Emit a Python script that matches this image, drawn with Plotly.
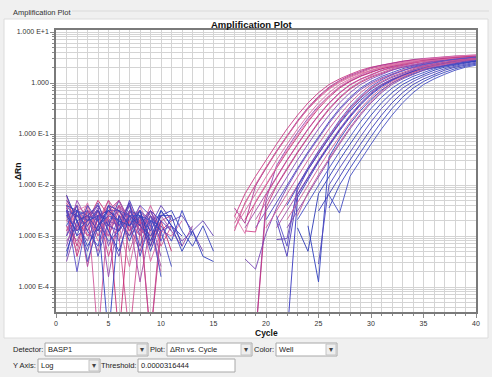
import plotly.graph_objects as go

# ---------------- data (log10 of delta Rn; None = not plotted) ----------------
_ = None
baseline_cycles = list(range(1, 16))
amp_cycles = list(range(16, 41))

early_baseline_log10 = [
    [-2.3, -2.6, -2.9, -2.5, -3.4, -2.7, -2.4, -2.8, -3.1, -2.6, _, _, _, _, _],
    [-2.2, -2.9, -2.5, -2.7, -2.3, -3.0, -5, -2.9, -2.6, -3.2, -2.8, _, _, _, _],
    [-2.7, -2.4, -3.6, -2.6, -2.5, -2.3, -2.8, -3.3, -2.7, _, _, _, _, _, _],
    [-2.5, -2.8, -2.6, -3.1, -2.9, -2.4, -2.6, -2.5, -3.5, -2.9, -3.0, -2.7, _, _, _],
    [-3.0, -2.3, -2.7, -2.4, -3.8, -2.6, -2.9, -2.7, -2.5, -3.0, _, _, _, _, _],
    [-2.4, -3.4, -2.7, -2.3, -2.6, -5, -2.5, -2.8, -3.2, -2.7, -3.3, _, _, _, _],
    [-2.6, -2.5, -2.4, -2.9, -2.7, -2.8, -3.0, -2.4, -2.9, -3.7, _, _, _, _, _],
    [-2.8, -3.1, -2.6, -2.5, -2.8, -2.4, -2.7, -3.9, -2.8, -2.6, -2.9, -3.2, -2.8, _, _],
    [-2.35, -2.7, -3.0, -2.7, -2.4, -2.9, -2.6, -2.7, -3.0, -2.8, _, _, _, _, _],
    [-2.9, -2.6, -2.8, -3.3, -2.5, -2.7, -2.35, -2.9, -2.6, -3.1, _, _, _, _, _],
    [-2.5, -3.2, -2.5, -2.8, -3.0, -2.5, -2.9, -2.6, -5, -2.9, -2.7, _, _, _, _],
    [-3.2, -2.5, -2.9, -2.6, -2.7, -3.1, -2.5, -2.8, -2.7, -3.4, _, _, _, _, _],
    [-2.6, -2.8, -2.35, -3.0, -2.6, -2.8, -3.6, -2.6, -2.9, _, _, _, _, _, _],
    [-2.45, -3.0, -2.8, -2.45, -3.2, -2.6, -2.7, -3.0, -2.5, -2.9, -2.8, -3.1, -2.9, -3.3, _],
]
early_amp_log10 = [
    [_, -2.62, -2.17, -1.83, -1.51, -1.2, -0.9, -0.63, -0.39, -0.19, -0.03, 0.08, 0.17, 0.25, 0.31, 0.35, 0.39, 0.43, 0.45, 0.47, 0.49, 0.50, 0.51, 0.52, 0.53],
    [_, -2.9, -2.34, -2.0, -1.67, -1.35, -1.05, -0.76, -0.5, -0.28, -0.1, 0.03, 0.13, 0.21, 0.28, 0.33, 0.37, 0.41, 0.44, 0.46, 0.48, 0.50, 0.51, 0.52, 0.53],
    [_, -2.45, -2.75, -2.02, -1.66, -1.33, -1.03, -0.74, -0.48, -0.26, -0.08, 0.05, 0.15, 0.23, 0.30, 0.35, 0.39, 0.43, 0.46, 0.48, 0.50, 0.52, 0.53, 0.54, 0.55],
    [_, -2.84, -2.51, -2.17, -1.83, -1.51, -1.2, -0.9, -0.63, -0.39, -0.19, -0.03, 0.08, 0.17, 0.25, 0.31, 0.35, 0.39, 0.43, 0.45, 0.47, 0.49, 0.50, 0.51, 0.52],
    [_, _, _, -5, -2.3, -1.62, -1.28, -0.97, -0.69, -0.45, -0.25, -0.08, 0.04, 0.14, 0.22, 0.28, 0.33, 0.37, 0.41, 0.44, 0.46, 0.48, 0.49, 0.50, 0.51],
    [_, _, -2.68, -2.34, -2.0, -1.67, -1.35, -1.05, -0.76, -0.5, -0.28, -0.1, 0.03, 0.13, 0.21, 0.28, 0.33, 0.37, 0.41, 0.44, 0.46, 0.48, 0.50, 0.51, 0.52],
    [_, -2.6, -2.95, -2.32, -1.98, -1.64, -1.32, -1.02, -0.73, -0.47, -0.25, -0.07, 0.06, 0.16, 0.24, 0.31, 0.36, 0.40, 0.44, 0.47, 0.49, 0.51, 0.53, 0.54, 0.55],
    [_, _, -2.84, -2.51, -2.17, -1.83, -1.51, -1.2, -0.9, -0.63, -0.39, -0.19, -0.03, 0.08, 0.17, 0.25, 0.31, 0.35, 0.39, 0.43, 0.45, 0.47, 0.49, 0.50, 0.51],
    [_, _, -2.9, -2.92, -2.2, -1.85, -1.52, -1.21, -0.91, -0.64, -0.4, -0.2, -0.04, 0.07, 0.16, 0.24, 0.30, 0.35, 0.39, 0.42, 0.45, 0.47, 0.49, 0.50, 0.51],
    [_, _, _, -2.68, -2.34, -2.0, -1.67, -1.35, -1.05, -0.76, -0.5, -0.28, -0.1, 0.03, 0.13, 0.21, 0.28, 0.33, 0.37, 0.41, 0.44, 0.46, 0.48, 0.50, 0.51],
    [_, _, _, -5, -2.45, -2.02, -1.69, -1.37, -1.07, -0.78, -0.52, -0.3, -0.12, 0.01, 0.11, 0.19, 0.26, 0.31, 0.35, 0.39, 0.42, 0.44, 0.46, 0.48, 0.49],
    [_, _, _, -2.84, -2.51, -2.17, -1.83, -1.51, -1.2, -0.9, -0.63, -0.39, -0.19, -0.03, 0.08, 0.17, 0.25, 0.31, 0.35, 0.39, 0.43, 0.45, 0.47, 0.49, 0.50],
    [_, -2.75, -2.36, -1.99, -1.65, -1.34, -1.04, -0.76, -0.51, -0.3, -0.12, 0.01, 0.11, 0.19, 0.25, 0.30, 0.34, 0.38, 0.41, 0.43, 0.45, 0.47, 0.48, 0.49, 0.50],
    [_, _, -3.45, -3.65, -2.95, -2.45, -2.05, -1.7, -1.38, -1.08, -0.79, -0.53, -0.31, -0.13, 0.0, 0.1, 0.18, 0.25, 0.3, 0.34, 0.38, 0.41, 0.43, 0.45, 0.47],
]

mid_baseline_log10 = [
    [-2.4, -2.7, -3.3, -2.6, -2.5, -2.9, -2.4, -3.0, -2.7, -2.6, _, _, _, _, _],
    [-3.4, -2.5, -2.6, -2.4, -2.8, -2.3, -2.7, -2.5, -3.2, -2.5, -2.8, -3.0, _, _, _],
    [-2.7, -2.9, -2.4, -5, -2.5, -2.8, -2.6, -2.9, -2.4, -2.9, _, _, _, _, _],
    [-2.3, -2.6, -2.7, -2.35, -2.9, -3.4, -2.5, -2.6, -2.8, -2.4, -2.7, -2.6, -2.9, -2.7, -3.0],
    [-2.9, -2.4, -3.0, -2.8, -2.3, -2.6, -3.0, -2.7, -5, -2.7, _, _, _, _, _],
    [-2.5, -3.7, -2.6, -2.7, -2.5, -2.5, -2.8, -2.4, -2.6, -3.1, -2.6, _, _, _, _],
    [-2.6, -2.5, -2.9, -3.2, -2.4, -2.8, -2.35, -3.4, -2.7, -2.8, -3.1, -2.5, -3.0, _, _],
    [-3.1, -2.8, -2.5, -2.6, -3.0, -2.4, -2.9, -2.5, -2.8, -3.6, _, _, _, _, _],
    [-2.5, -2.6, -2.8, -2.5, -2.8, -2.9, -2.3, -2.8, -2.5, -2.7, -2.9, _, _, _, _],
    [-2.8, -3.3, -2.6, -2.9, -2.6, -2.3, -2.7, -3.0, -2.6, -2.8, _, _, _, _, _],
    [-2.4, -2.5, -2.7, -2.6, -5, -2.6, -3.1, -2.6, -2.9, -2.5, -2.8, -3.3, -2.9, -3.4, -3.5],
    [-3.5, -2.8, -3.1, -2.5, -2.7, -2.8, -2.5, -2.9, -2.5, -3.0, _, _, _, _, _],
    [-2.65, -2.4, -2.6, -3.0, -2.6, -2.4, -3.3, -2.7, -3.0, -2.7, -2.6, _, _, _, _],
    [-2.5, -3.0, -2.4, -2.7, -3.1, -2.9, -2.6, -2.6, -2.7, -3.8, _, _, _, _, _],
    [-2.2, -2.7, -3.2, -2.8, -2.5, -2.7, -2.8, -2.5, -3.1, -2.6, -2.6, -3.2, _, _, _],
    [-3.0, -2.6, -2.5, -3.4, -2.7, -2.5, -2.6, -3.2, -2.6, -2.9, _, _, _, _, _],
]
mid_amp_log10 = [
    [_, _, _, _, -2.68, -2.34, -2.0, -1.67, -1.35, -1.05, -0.76, -0.5, -0.28, -0.1, 0.03, 0.13, 0.21, 0.28, 0.33, 0.37, 0.41, 0.44, 0.46, 0.48, 0.50],
    [_, _, _, _, _, _, -5, -2.25, -1.9, -1.55, -1.24, -0.94, -0.67, -0.43, -0.23, -0.07, 0.05, 0.15, 0.23, 0.29, 0.34, 0.38, 0.41, 0.44, 0.46],
    [_, _, _, _, -2.84, -2.51, -2.17, -1.83, -1.51, -1.2, -0.9, -0.63, -0.39, -0.19, -0.03, 0.08, 0.17, 0.25, 0.31, 0.35, 0.39, 0.43, 0.45, 0.47, 0.49],
    [_, _, _, _, _, -3.07, -3.05, -2.1, -1.7, -1.38, -1.07, -0.78, -0.52, -0.3, -0.12, 0.01, 0.11, 0.19, 0.26, 0.31, 0.35, 0.39, 0.42, 0.44, 0.46],
    [_, _, _, _, _, -2.68, -2.34, -2.0, -1.67, -1.35, -1.05, -0.76, -0.5, -0.28, -0.1, 0.03, 0.13, 0.21, 0.28, 0.33, 0.37, 0.41, 0.44, 0.46, 0.48],
    [_, _, _, _, _, -2.6, -3.2, -2.02, -1.66, -1.33, -1.02, -0.73, -0.47, -0.25, -0.07, 0.06, 0.16, 0.24, 0.31, 0.36, 0.40, 0.44, 0.47, 0.49, 0.51],
    [_, _, _, _, _, _, -2.4, -2.03, -1.7, -1.38, -1.08, -0.8, -0.55, -0.34, -0.16, -0.03, 0.07, 0.15, 0.22, 0.27, 0.31, 0.35, 0.38, 0.41, 0.43],
    [_, _, _, _, _, -2.84, -2.51, -2.17, -1.83, -1.51, -1.2, -0.9, -0.63, -0.39, -0.19, -0.03, 0.08, 0.17, 0.25, 0.31, 0.35, 0.39, 0.43, 0.45, 0.47],
    [_, _, _, _, _, -2.7, -3.4, -2.19, -1.85, -1.53, -1.22, -0.92, -0.65, -0.41, -0.21, -0.05, 0.06, 0.15, 0.23, 0.29, 0.34, 0.38, 0.41, 0.44, 0.46],
    [_, _, _, _, _, _, -2.68, -2.34, -2.0, -1.67, -1.35, -1.05, -0.76, -0.5, -0.28, -0.1, 0.03, 0.13, 0.21, 0.28, 0.33, 0.37, 0.41, 0.44, 0.46],
    [_, _, _, _, _, _, _, _, -2.8, -3.9, -1.45, -1.1, -0.8, -0.54, -0.32, -0.14, 0.0, 0.1, 0.18, 0.25, 0.3, 0.34, 0.38, 0.41, 0.43],
    [_, _, _, _, _, _, -2.84, -2.51, -2.17, -1.83, -1.51, -1.2, -0.9, -0.63, -0.39, -0.19, -0.03, 0.08, 0.17, 0.25, 0.31, 0.35, 0.39, 0.43, 0.45],
    [_, _, _, _, _, _, _, -2.6, -2.15, -1.8, -1.48, -1.17, -0.87, -0.6, -0.36, -0.16, 0.0, 0.11, 0.2, 0.28, 0.34, 0.38, 0.42, 0.45, 0.47],
    [_, _, _, _, _, _, _, -2.68, -2.34, -2.0, -1.67, -1.35, -1.05, -0.76, -0.5, -0.28, -0.1, 0.03, 0.13, 0.21, 0.28, 0.33, 0.37, 0.41, 0.44],
    [_, _, _, _, _, _, _, -2.84, -3.3, -2.17, -1.83, -1.51, -1.2, -0.9, -0.63, -0.39, -0.19, -0.03, 0.08, 0.17, 0.25, 0.31, 0.35, 0.39, 0.43],
    [_, _, _, _, _, _, _, _, _, -3.55, -2.0, -1.67, -1.35, -1.05, -0.76, -0.5, -0.28, -0.1, 0.03, 0.13, 0.21, 0.28, 0.33, 0.37, 0.41],
]

late_baseline_log10 = [
    [-2.6, -2.9, -2.7, -2.5, -2.9, -3.3, -2.6, -2.8, -3.0, -2.6, -2.5, -2.9, -3.2, -2.8, -3.3],
    [-2.8, -2.4, -3.5, -2.8, -2.6, -2.7, -3.0, -2.5, -2.7, -2.9, -3.6, _, _, _, _],
    [-3.3, -2.7, -2.6, -2.9, -2.4, -2.5, -2.8, -2.6, -3.3, -2.7, _, _, _, _, _],
]
late_amp_log10 = [
    [_, _, _, _, _, _, _, _, _, _, -2.45, -2.0, -1.67, -1.35, -1.05, -0.76, -0.5, -0.28, -0.1, 0.03, 0.13, 0.21, 0.28, 0.33, 0.37],
    [_, _, _, _, _, _, _, _, _, _, -2.2, -2.55, -1.83, -1.51, -1.2, -0.9, -0.63, -0.39, -0.19, -0.03, 0.08, 0.17, 0.25, 0.31, 0.35],
    [_, _, _, _, _, _, _, _, _, -2.51, -2.17, -1.83, -1.51, -1.2, -0.9, -0.63, -0.39, -0.19, -0.03, 0.08, 0.17, 0.25, 0.31, 0.35, 0.39],
]

early_colors = ['#cc3a86', '#d0508f', '#b03a96', '#de6aa5', '#9a46b0', '#c82c74', '#e07ab0',
                '#a84aa8', '#d4448c', '#b85aa6', '#c4367e', '#8a4ab8', '#d86ca0', '#7a48b8']
mid_colors = ['#4a44c4', '#3838c0', '#d0589a', '#6848b8', '#c44a90', '#5a50c8', '#3c46c6', '#a850a8',
              '#4c3cbc', '#d0609c', '#3040c0', '#8448b0', '#c05898', '#4650c8', '#2f3cb8', '#5048c0']
late_colors = ['#3a44c0', '#4650c4', '#3a3cb8']

x_tick_values = [0, 5, 10, 15, 20, 25, 30, 35, 40]
y_tick_values = [10, 1, 0.1, 0.01, 0.001, 0.0001]
y_tick_labels = ["1.000 E+1", "1.000", "1.000 E-1", "1.000 E-2", "1.000 E-3", "1.000 E-4"]

# ---------------- figure ----------------
W, H = 492, 377
L, R, T, B = 56, 476, 30, 312


def px(x, y):
    return (x - L) / (R - L), (B - y) / (B - T)


fig = go.Figure()
cycles = baseline_cycles + amp_cycles
groups = [(early_baseline_log10, early_amp_log10, early_colors),
          (mid_baseline_log10, mid_amp_log10, mid_colors),
          (late_baseline_log10, late_amp_log10, late_colors)]
for bases, amps, cols in groups:
    for base, amp, col in zip(bases, amps, cols):
        vals = [None if v is None else 10 ** v for v in base + amp]
        fig.add_trace(go.Scatter(x=cycles, y=vals, mode='lines',
                                 line=dict(color=col, width=1), opacity=0.9,
                                 hoverinfo='skip', showlegend=False))

grid = '#d4d4d4'
fig.update_xaxes(range=[0, 40], tickmode='array', tickvals=x_tick_values,
                 ticks='outside', ticklen=4, tickcolor='#8a8a8a',
                 showgrid=True, gridcolor=grid, gridwidth=1, zeroline=False,
                 minor=dict(dtick=1, showgrid=True, gridcolor=grid, ticks='outside',
                            ticklen=2, tickcolor='#8a8a8a'),
                 showline=True, linecolor='#7a7a7a', linewidth=1.5, mirror=True,
                 tickfont=dict(size=7, color='#333'))
fig.update_yaxes(type='log', range=[-4.49, 1.04], tickmode='array',
                 tickvals=y_tick_values, ticktext=y_tick_labels,
                 ticks='outside', ticklen=4, tickcolor='#8a8a8a',
                 showgrid=True, gridcolor=grid, gridwidth=1, zeroline=False,
                 minor=dict(dtick='D1', showgrid=True, gridcolor=grid, ticks='outside',
                            ticklen=2, tickcolor='#8a8a8a'),
                 showline=True, linecolor='#7a7a7a', linewidth=1.5, mirror=True,
                 tickfont=dict(size=7, color='#333'))

shapes = []
annotations = []


def rect(x0, y0, x1, y1, fill, line='#a0a0a0', width=1, layer='below'):
    a0, b0 = px(x0, y0)
    a1, b1 = px(x1, y1)
    shapes.append(dict(type='rect', xref='paper', yref='paper', x0=a0, y0=b0, x1=a1, y1=b1,
                       fillcolor=fill, line=dict(color=line, width=width), layer=layer))


def text(x, y, s, size=8, anchor='left', bold=False, color='#222', angle=0):
    a, b = px(x, y)
    if bold:
        s = '<b>' + s + '</b>'
    annotations.append(dict(x=a, y=b, xref='paper', yref='paper', text=s, showarrow=False,
                            xanchor=anchor, yanchor='middle', textangle=angle,
                            font=dict(size=size, color=color)))


# white panel behind the plot
rect(4, 19, 488, 338, '#ffffff', line='#dcdcdc')
# group-box separator line
a0, b0 = px(72, 11)
a1, _b = px(489, 11)
shapes.append(dict(type='line', xref='paper', yref='paper', x0=a0, y0=b0, x1=a1, y1=b0,
                   line=dict(color='#dadada', width=1), layer='below'))
text(11, 12, 'Amplification Plot', size=7.5, color='#333')

# titles
text(252, 24, 'Amplification Plot', size=9.5, anchor='center', bold=True, color='#111')
text(266, 333, 'Cycle', size=8.5, anchor='center', bold=True, color='#111')
text(18, 172, 'ΔRn', size=8.5, anchor='center', bold=True, color='#111', angle=-90)


# controls
def combo(x0, x1, y0, y1, value, arrow=True):
    rect(x0, y0, x1, y1, '#ffffff', line='#a8a8a8', layer='above')
    text(x0 + 1, (y0 + y1) / 2, value, size=7.5, color='#222')
    if arrow:
        rect(x1 - 11, y0 + 1, x1 - 1, y1 - 1, '#eeeeee', line='#c4c4c4', layer='above')
        text(x1 - 6, (y0 + y1) / 2, '▾', size=8, anchor='center', color='#444')


r1a, r1b = 343, 356
r2a, r2b = 359, 372
text(45, 349.5, 'Detector:', size=7.5, anchor='right', color='#222')
combo(45, 148, r1a, r1b, 'BASP1')
text(167, 349.5, 'Plot:', size=7.5, anchor='right', color='#222')
combo(167, 252, r1a, r1b, 'ΔRn vs. Cycle')
text(276, 349.5, 'Color:', size=7.5, anchor='right', color='#222')
combo(276, 337, r1a, r1b, 'Well')
text(38, 365.5, 'Y Axis:', size=7.5, anchor='right', color='#222')
combo(38, 100, r2a, r2b, 'Log')
text(138, 365.5, 'Threshold:', size=7.5, anchor='right', color='#222')
combo(138, 235, r2a, r2b, '0.0000316444', arrow=False)

fig.update_layout(width=W, height=H,
                  margin=dict(l=L, r=W - R, t=T, b=H - B, pad=0),
                  paper_bgcolor='#f0f0f0', plot_bgcolor='#ffffff',
                  font=dict(family='Liberation Sans, Arial, sans-serif', size=8, color='#222'),
                  showlegend=False, shapes=shapes, annotations=annotations)

fig.write_html('out.html', config={'displayModeBar': False},
               post_script="document.body.style.margin='0px';document.body.style.overflow='hidden';")
